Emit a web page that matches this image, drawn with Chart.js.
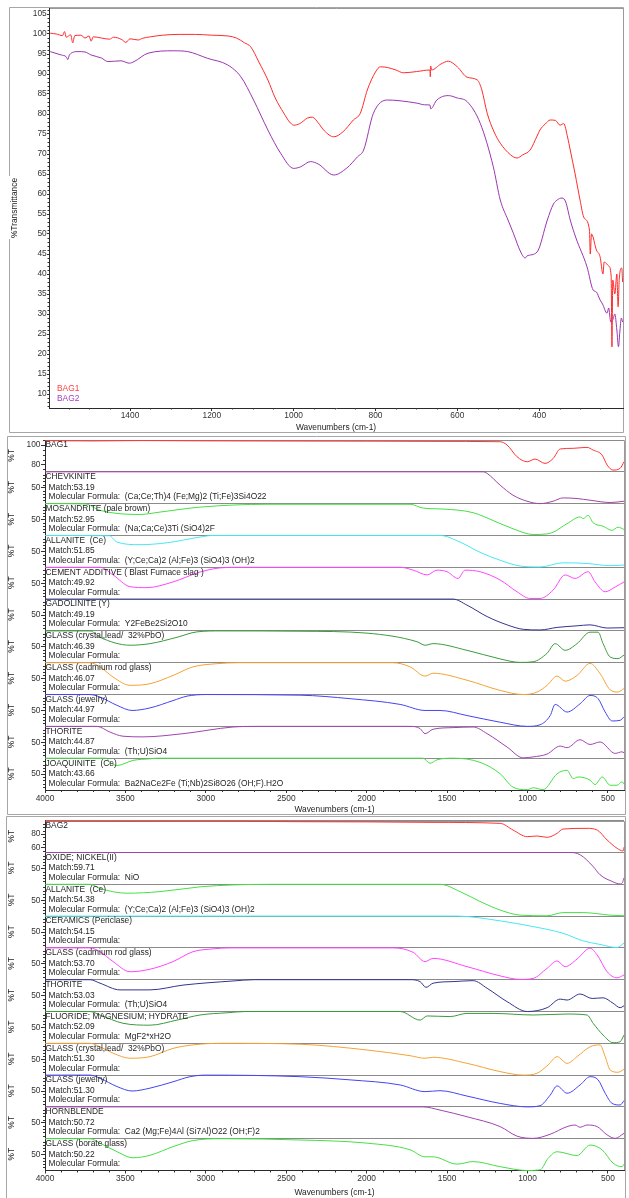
<!DOCTYPE html>
<html>
<head>
<meta charset="utf-8">
<script src="https://cdn.jsdelivr.net/npm/chart.js@4.4.1/dist/chart.umd.min.js"></script>
<style>
  html, body { margin: 0; padding: 0; background: #fff; }
  body { width: 629px; height: 1198px; position: relative; overflow: hidden; }
  canvas { position: absolute; left: 0; top: 0; }
</style>
</head>
<body>
<canvas id="spectraChart" width="629" height="1198"></canvas>
<canvas id="bag1Chart" width="629" height="1198"></canvas>
<canvas id="bag2Chart" width="629" height="1198"></canvas>
<script>
// ---------- top overlay: %T vs wavenumber ----------
const bag1Spectrum = [
  [1595, 100.2], [1580, 100.0], [1565, 99.6], [1560, 100.6], [1556, 99.2], [1545, 99.8], [1540, 97.8],
  [1535, 99.6], [1520, 99.7], [1510, 99.0], [1500, 99.5], [1495, 98.2], [1490, 99.3], [1470, 99.0],
  [1450, 98.7], [1440, 99.2], [1420, 98.6], [1410, 97.9], [1400, 98.8], [1380, 98.5], [1370, 98.9],
  [1350, 99.3], [1320, 99.7], [1280, 99.9], [1240, 99.9], [1200, 99.7], [1160, 99.5], [1140, 99.0],
  [1120, 97.8], [1105, 96.8], [1085, 93.0], [1063, 88.5], [1045, 84.0], [1024, 80.2], [1010, 78.0],
  [1000, 77.2], [985, 77.6], [966, 79.0], [954, 79.2], [940, 77.8], [925, 75.8], [902, 74.3],
  [880, 75.5], [854, 78.5], [837, 80.2], [820, 86.0], [800, 90.5], [788, 91.8], [770, 91.6],
  [750, 91.0], [732, 90.3], [700, 90.6], [667, 91.0], [666, 89.3], [665, 92.0], [663, 91.0],
  [640, 92.5], [622, 93.2], [600, 91.8], [576, 89.2], [551, 88.5], [540, 86.0], [527, 80.2],
  [510, 75.5], [495, 72.7], [470, 69.8], [454, 69.0], [440, 69.8], [422, 71.0], [405, 74.5],
  [398, 76.0], [385, 77.5], [373, 78.5], [360, 78.4], [349, 77.2], [340, 77.6], [330, 74.0],
  [324, 71.0], [312, 65.0], [300, 58.5], [290, 54.0], [277, 51.0], [275, 45.0], [272, 50.0],
  [260, 46.0], [251, 44.3], [244, 40.0], [241, 43.0], [230, 42.0], [224, 39.5], [222, 21.8],
  [220, 38.5], [215, 35.0], [210, 40.0], [207, 31.8], [204, 39.0], [198, 41.5], [196, 38.0]
]
const bag2Spectrum = [
  [1595, 95.6], [1568, 94.75], [1556, 94.3], [1552, 93.6], [1548, 94.8], [1527, 95.6], [1510, 95.5],
  [1495, 94.75], [1470, 94.0], [1454, 93.1], [1422, 93.3], [1402, 92.7], [1390, 93.1], [1356, 95.2],
  [1293, 95.8], [1259, 95.6], [1210, 93.9], [1161, 92.25], [1129, 89.3], [1098, 83.5], [1063, 76.0],
  [1032, 70.2], [1000, 66.4], [983, 66.8], [959, 68.1], [940, 67.5], [902, 64.75], [870, 66.5],
  [844, 69.3], [829, 71.0], [805, 80.2], [771, 83.5], [740, 83.3], [698, 82.7], [680, 82.3],
  [667, 82.25], [665, 81.3], [650, 83.5], [622, 84.6], [600, 84.0], [576, 83.1], [544, 77.7],
  [512, 66.8], [495, 58.5], [476, 53.5], [463, 50.2], [445, 45.5], [434, 44.0], [430, 44.5],
  [405, 45.5], [380, 53.5], [365, 57.5], [356, 58.5], [344, 59.0], [335, 58.0], [324, 53.5],
  [310, 49.0], [283, 41.8], [268, 36.0], [260, 35.5], [251, 33.5], [245, 32.5], [234, 30.2],
  [230, 31.5], [225, 28.0], [220, 28.5], [215, 30.0], [210, 26.0], [206, 21.8], [203, 25.2],
  [199, 29.0], [196, 28.0]
]
const topYTicks = [10, 15, 20, 25, 30, 35, 40, 45, 50, 55, 60, 65, 70, 75, 80, 85, 90, 95, 100, 105]
const topXTicks = [1400, 1200, 1000, 800, 600, 400]

// ---------- search results, shared x ticks ----------
const rowXTicks = [4000, 3500, 3000, 2500, 2000, 1500, 1000, 500]

// ---------- BAG1 search ----------
const bag1Row = [
  [4000, 104.5], [3700, 104.2], [3400, 104.6], [3000, 104.3], [2414, 104.1], [2000, 104.0], [1600, 103.8],
  [1170, 103.4], [1127, 100.0], [1065, 87.9], [1002, 82.7], [953, 85.5], [891, 81.0], [840, 86.2],
  [797, 95.9], [716, 96.6], [630, 97.6], [592, 94.8], [536, 89.6], [505, 79.3], [468, 74.1], [424, 75.9], [400, 82.7]
]
const chevkiniteRow = [
  [4000, 100], [1276, 100], [1251, 95], [1170, 58], [1090, 26.5], [1003, 7.6], [922, 0], [841, 7.6],
  [779, 18], [692, 16], [611, 10.7], [486, 3.5], [400, 7.6]
]
const mosandriteRow = [
  [4000, 100], [3750, 99], [3658, 79], [3409, 66], [3285, 73.5], [3036, 89], [2619, 98], [1730, 98],
  [1649, 86], [1525, 83], [1338, 71.6], [1214, 47], [1090, 21], [965, 3], [878, 5], [841, 10], [754, 37],
  [673, 58], [654, 53], [623, 63], [592, 40], [530, 29], [474, 16], [437, 26], [400, 19]
]
const allaniteRow = [
  [4000, 100], [3600, 99], [3552, 79], [3409, 71], [3241, 77], [3036, 95], [2955, 100], [1544, 100],
  [1419, 79], [1295, 47], [1170, 22], [1046, 4], [922, 1], [779, 14], [629, 12], [486, 5], [400, 7]
]
const cementRow = [
  [4000, 100], [3658, 100], [3577, 76], [3471, 39], [3366, 36], [3204, 54], [3036, 85], [2912, 98],
  [2800, 100], [1792, 100], [1711, 91], [1624, 76], [1562, 91], [1500, 86], [1432, 65], [1388, 91],
  [1295, 86], [1170, 60], [1065, 23], [985, 2], [922, 2], [841, 28], [766, 76], [704, 65], [623, 86],
  [580, 54], [517, 23], [455, 38], [400, 54]
]
const gadoliniteRow = [
  [4000, 100], [1463, 100], [1376, 81], [1251, 45], [1127, 19], [1027, 5], [922, 3], [816, 11],
  [692, 16], [611, 19], [505, 9], [400, 10]
]
const glassCrystalRow = [
  [4000, 100], [3720, 100], [3658, 80], [3471, 55], [3347, 60], [3179, 80], [3055, 97], [2900, 100],
  [2414, 99], [1998, 93], [1687, 66], [1637, 55], [1587, 60], [1376, 39], [1170, 12], [1046, 1],
  [965, 3], [878, 30], [828, 60], [766, 39], [692, 60], [611, 96], [561, 96], [530, 60], [486, 18],
  [437, 13], [400, 24]
]
const glassCadmiumRow = [
  [4000, 100], [3720, 100], [3658, 87], [3577, 55], [3471, 29], [3347, 34], [3204, 60], [3080, 87],
  [2930, 97], [2800, 100], [1836, 100], [1730, 87], [1637, 58], [1587, 67], [1376, 45], [1170, 13],
  [1027, 0], [940, 8], [878, 29], [816, 58], [766, 42], [692, 60], [611, 98], [549, 66], [486, 15],
  [437, 8], [400, 19]
]
const glassJewelryRow = [
  [4000, 100], [3720, 100], [3658, 92], [3552, 66], [3459, 50], [3347, 58], [3204, 81], [3117, 95],
  [3000, 100], [2414, 98], [2103, 87], [1792, 69], [1637, 50], [1544, 50], [1376, 34], [1170, 13],
  [1002, 0], [922, 5], [859, 34], [828, 69], [754, 45], [673, 71], [611, 97], [561, 87], [517, 45],
  [474, 17], [424, 19], [400, 30]
]
const thoriteRow = [
  [4000, 100], [3677, 100], [3596, 82], [3515, 69], [3391, 67], [3142, 77], [2831, 98], [2700, 100],
  [1730, 100], [1668, 93], [1637, 77], [1587, 91], [1463, 96], [1338, 98], [1251, 77], [1127, 35],
  [1027, 1], [965, 4], [878, 13], [797, 38], [754, 33], [673, 58], [611, 43], [549, 51], [455, 15],
  [412, 20], [400, 17]
]
const joaquiniteRow = [
  [4000, 100], [3620, 100], [3596, 87], [3552, 77], [3453, 93], [3347, 98], [3300, 100], [1649, 100],
  [1606, 84], [1562, 95], [1463, 100], [1295, 87], [1170, 51], [1090, 9], [1002, 1], [965, 7], [903, 1],
  [816, 51], [754, 62], [716, 36], [685, 41], [611, 31], [580, 17], [536, 41], [486, 15], [443, 15],
  [412, 26], [400, 18]
]
const bag1Rows = [bag1Row, chevkiniteRow, mosandriteRow, allaniteRow, cementRow, gadoliniteRow,
  glassCrystalRow, glassCadmiumRow, glassJewelryRow, thoriteRow, joaquiniteRow]
const bag1Names = ['BAG1', 'CHEVKINITE', 'MOSANDRITE (pale brown)', 'ALLANITE  (Ce)',
  'CEMENT ADDITIVE ( Blast Furnace slag )', 'GADOLINITE (Y)', 'GLASS (crystal,lead/  32%PbO)',
  'GLASS (cadmium rod glass)', 'GLASS (jewelry)', 'THORITE', 'JOAQUINITE  (Ce)']
const bag1Matches = ['', 'Match:53.19', 'Match:52.95', 'Match:51.85', 'Match:49.92', 'Match:49.19',
  'Match:46.39', 'Match:46.07', 'Match:44.97', 'Match:44.87', 'Match:43.66']
const bag1Formulas = ['', 'Molecular Formula:  (Ca;Ce;Th)4 (Fe;Mg)2 (Ti;Fe)3Si4O22',
  'Molecular Formula:  (Na;Ca;Ce)3Ti (SiO4)2F', 'Molecular Formula:  (Y;Ce;Ca)2 (Al;Fe)3 (SiO4)3 (OH)2',
  'Molecular Formula:', 'Molecular Formula:  Y2FeBe2Si2O10', 'Molecular Formula:', 'Molecular Formula:',
  'Molecular Formula:', 'Molecular Formula:  (Th;U)SiO4',
  'Molecular Formula:  Ba2NaCe2Fe (Ti;Nb)2Si8O26 (OH;F).H2O']
const bag1RowRange = [72.3, 105.2]
const bag1RowTicks = [100, 80]

// ---------- BAG2 search ----------
const bag2Row = [
  [4000, 99.5], [3500, 99.0], [3000, 99.3], [2414, 98.5], [2000, 98.2], [1600, 97.5], [1170, 96.0],
  [1090, 86.0], [1002, 76.0], [940, 77.0], [878, 75.0], [816, 81.0], [779, 87.5], [630, 88.5],
  [567, 86.0], [505, 71.0], [443, 58.5], [406, 54.5], [400, 60.0]
]
const oxideRow = [[4000, 100], [735, 100], [673, 93], [592, 56], [549, 30], [474, 9], [424, 1], [410, 5], [400, 20]]
const allanite2Row = [
  [4000, 100], [3720, 100], [3658, 87], [3490, 72], [3285, 77], [3036, 92], [2831, 98], [2600, 100],
  [1544, 100], [1419, 77], [1295, 46], [1170, 19], [1046, 3], [878, 1], [779, 11], [654, 11], [486, 3], [400, 1]
]
const ceramicsRow = [[4000, 100], [1438, 100], [1170, 85], [965, 67], [779, 46], [654, 22], [549, 11], [443, 1], [400, 15]]
const glassCadmium2Row = [
  [4000, 100], [3720, 100], [3658, 88], [3577, 57], [3471, 25], [3347, 33], [3204, 57], [3080, 88],
  [2955, 97], [2850, 100], [1836, 100], [1711, 86], [1637, 57], [1587, 67], [1376, 41], [1170, 12],
  [1046, 1], [965, 4], [878, 36], [816, 59], [766, 41], [692, 65], [611, 99], [567, 78], [505, 25],
  [443, 6], [400, 15]
]
const thorite2Row = [
  [4000, 100], [3720, 100], [3658, 89], [3534, 68], [3347, 68], [3142, 83], [2831, 96], [2700, 100],
  [1730, 100], [1668, 94], [1631, 76], [1587, 89], [1463, 94], [1338, 97], [1251, 73], [1127, 31],
  [1002, 0], [878, 12], [797, 39], [754, 36], [673, 55], [598, 41], [530, 43], [468, 26], [424, 12], [400, 18]
]
const fluorideRow = [
  [4000, 100], [3720, 100], [3658, 89], [3515, 63], [3347, 57], [3179, 73], [3036, 89], [2868, 96],
  [2750, 100], [1792, 100], [1668, 73], [1624, 86], [1481, 84], [1376, 94], [1214, 94], [965, 89],
  [754, 92], [630, 89], [592, 63], [530, 26], [468, 2], [424, 5], [400, 26]
]
const glassCrystal2Row = [
  [4000, 100], [3720, 100], [3658, 89], [3577, 69], [3471, 53], [3347, 58], [3204, 84], [3080, 95],
  [2900, 100], [2414, 97], [1998, 79], [1730, 61], [1637, 53], [1587, 56], [1376, 37], [1170, 11],
  [1027, 0], [940, 6], [872, 32], [816, 58], [754, 37], [692, 58], [611, 89], [549, 95], [517, 58],
  [486, 16], [437, 9], [400, 18]
]
const glassJewelry2Row = [
  [4000, 100], [3720, 100], [3658, 90], [3552, 64], [3459, 50], [3347, 59], [3204, 79], [3098, 95],
  [3000, 100], [2414, 95], [2103, 85], [1792, 69], [1637, 48], [1544, 51], [1376, 34], [1170, 11],
  [1002, 0], [922, 4], [859, 37], [816, 66], [754, 43], [673, 69], [611, 95], [561, 85], [517, 43],
  [474, 11], [424, 6], [400, 20]
]
const hornblendeRow = [
  [4000, 100], [1649, 100], [1544, 90], [1376, 69], [1170, 38], [1065, 8], [965, 1], [859, 14],
  [754, 38], [704, 43], [673, 36], [630, 43], [567, 38], [505, 12], [455, 1], [400, 17]
]
const glassBorateRow = [
  [4000, 100], [3720, 100], [3658, 86], [3552, 59], [3453, 40], [3347, 48], [3204, 75], [3080, 94],
  [2900, 100], [2414, 96], [1998, 86], [1730, 65], [1637, 43], [1587, 43], [1438, 20], [1338, 28],
  [1170, 12], [1002, 0], [922, 2], [872, 38], [816, 59], [692, 47], [611, 80], [536, 65], [468, 23],
  [412, 12], [400, 20]
]
const bag2Rows = [bag2Row, oxideRow, allanite2Row, ceramicsRow, glassCadmium2Row, thorite2Row,
  fluorideRow, glassCrystal2Row, glassJewelry2Row, hornblendeRow, glassBorateRow]
const bag2Names = ['BAG2', 'OXIDE; NICKEL(II)', 'ALLANITE  (Ce)', 'CERAMICS (Periclase)',
  'GLASS (cadmium rod glass)', 'THORITE', 'FLUORIDE; MAGNESIUM; HYDRATE', 'GLASS (crystal,lead/  32%PbO)',
  'GLASS (jewelry)', 'HORNBLENDE', 'GLASS (borate glass)']
const bag2Matches = ['', 'Match:59.71', 'Match:54.38', 'Match:54.15', 'Match:53.70', 'Match:53.03',
  'Match:52.09', 'Match:51.30', 'Match:51.30', 'Match:50.72', 'Match:50.22']
const bag2Formulas = ['', 'Molecular Formula:  NiO', 'Molecular Formula:  (Y;Ce;Ca)2 (Al;Fe)3 (SiO4)3 (OH)2',
  'Molecular Formula:', 'Molecular Formula:', 'Molecular Formula:  (Th;U)SiO4',
  'Molecular Formula:  MgF2*xH2O', 'Molecular Formula:', 'Molecular Formula:',
  'Molecular Formula:  Ca2 (Mg;Fe)4Al (Si7Al)O22 (OH;F)2', 'Molecular Formula:']
const bag2RowRange = [52.2, 100]
const bag2RowTicks = [80, 60]

// line colours per row
const bag1Colors = ['#ff3333', '#a044a8', '#44e044', '#44e8f4', '#ff44ff', '#33338f', '#3c9a3c',
  '#f5a236', '#4444f2', '#a044b0', '#44e044']
const bag2Colors = ['#ff3333', '#a044b0', '#44e044', '#44e8f4', '#ff44ff', '#33338f', '#3c9a3c',
  '#f5a236', '#4444f2', '#a044b0', '#44e044']

const fontFamily = "'Liberation Sans', Arial, sans-serif"
Chart.defaults.font.family = fontFamily
Chart.defaults.font.size = 8.4
Chart.defaults.color = '#2a2a2a'

const decorPlugin = {
  id: 'decor',
  beforeDraw(chart, args, opts) {
    if (!opts.box) return
    const { ctx, chartArea: a } = chart
    const b = opts.box
    ctx.save()
    ctx.strokeStyle = '#a6a6a6'
    ctx.lineWidth = 1
    ctx.beginPath()
    ctx.moveTo(b.left, b.top)
    ctx.lineTo(b.right, b.top)
    ctx.lineTo(b.right, b.bottom)
    ctx.lineTo(b.left, b.bottom)
    if (b.gap) {
      ctx.lineTo(b.left, b.gap[1])
      ctx.moveTo(b.left, b.gap[0])
    }
    ctx.lineTo(b.left, b.top)
    ctx.stroke()
    ctx.strokeStyle = '#9a9a9a'
    ctx.beginPath()
    ctx.moveTo(a.left, Math.round(a.top) + 0.5)
    ctx.lineTo(Math.round(a.right) + 0.5, Math.round(a.top) + 0.5)
    ctx.lineTo(Math.round(a.right) + 0.5, a.bottom)
    ctx.stroke()
    ctx.restore()
  },
  afterDraw(chart, args, opts) {
    const { ctx, chartArea: a, scales: { x, y } } = chart
    const len = opts.minorLen || 2
    ctx.save()
    ctx.strokeStyle = '#333'
    ctx.lineWidth = 1
    ctx.beginPath()
    ;(opts.minorX || []).forEach(v => {
      const px = Math.round(x.getPixelForValue(v)) + 0.5
      ctx.moveTo(px, a.bottom)
      ctx.lineTo(px, a.bottom + len)
    })
    ;(opts.minorY || []).forEach(v => {
      const py = Math.round(y.getPixelForValue(v)) + 0.5
      ctx.moveTo(a.left, py)
      ctx.lineTo(a.left - len, py)
    })
    ctx.stroke()
    ;(opts.labels || []).forEach(l => {
      ctx.fillStyle = l.color
      ctx.font = `8.4px ${fontFamily}`
      ctx.textBaseline = 'middle'
      ctx.fillText(l.text, l.x, l.y)
    })
    ctx.restore()
  }
}

const rowLabelsPlugin = {
  id: 'rowLabels',
  afterDatasetsDraw(chart, args, opts) {
    if (!opts.names) return
    const { ctx, chartArea: a, scales: { y } } = chart
    const n = opts.names.length
    ctx.save()
    ctx.fillStyle = '#1e1e1e'
    ctx.font = `8.4px ${fontFamily}`
    ctx.textBaseline = 'middle'
    opts.names.forEach((name, i) => {
      const top = y.getPixelForValue((n - i) * 100)
      ctx.textAlign = 'left'
      ctx.fillText(name, a.left + 0.5, top + 5)
      if (opts.matches[i]) ctx.fillText(opts.matches[i], a.left + 3.5, top + 15.6)
      if (opts.formulas[i]) ctx.fillText(opts.formulas[i], a.left + 3.5, top + 25)
      ctx.save()
      ctx.translate(12, top + 15.5)
      ctx.rotate(-Math.PI / 2)
      ctx.textAlign = 'center'
      ctx.fillText('%T', 0, 0)
      ctx.restore()
    })
    ctx.restore()
  }
}

Chart.register(decorPlugin, rowLabelsPlugin)

const toPoints = arr => arr.map(([w, t]) => ({ x: w, y: t }))
const plainNumber = v => String(v)

const topMinorX = []
for (let w = 250; w <= 1550; w += 50) if (w % 200 !== 0) topMinorX.push(w)
const topMinorY = []
for (let v = 7; v <= 106; v++) if (v % 5 !== 0) topMinorY.push(v)

new Chart(document.getElementById('spectraChart'), {
  type: 'line',
  data: {
    datasets: [
      { label: 'BAG1', data: toPoints(bag1Spectrum), borderColor: '#ff2b2b', borderWidth: 1, pointRadius: 0, cubicInterpolationMode: 'monotone' },
      { label: 'BAG2', data: toPoints(bag2Spectrum), borderColor: '#9a35b0', borderWidth: 1, pointRadius: 0, cubicInterpolationMode: 'monotone' }
    ]
  },
  options: {
    responsive: false,
    animation: false,
    devicePixelRatio: 1,
    events: [],
    layout: { padding: { left: 0, top: 8, right: 6, bottom: 764 } },
    plugins: {
      legend: { display: false },
      tooltip: { enabled: false },
      decor: {
        box: { left: 9.5, top: 7.5, right: 623.5, bottom: 432.5, gap: [176, 239] },
        minorX: topMinorX,
        minorY: topMinorY,
        minorLen: 1.5,
        labels: [
          { text: 'BAG1', color: '#ff4040', x: 57, y: 388.5 },
          { text: 'BAG2', color: '#a040c0', x: 57, y: 398.5 }
        ]
      }
    },
    scales: {
      x: {
        type: 'linear',
        reverse: true,
        min: 195,
        max: 1598,
        afterBuildTicks: s => { s.ticks = topXTicks.map(v => ({ value: v })) },
        afterFit: s => { s.height = 26 },
        grid: { drawOnChartArea: false, drawTicks: true, tickLength: 3, tickColor: '#333' },
        border: { color: '#2a2a2a', width: 1 },
        ticks: { autoSkip: false, maxRotation: 0, padding: 0, color: '#333', callback: plainNumber },
        title: { display: true, text: 'Wavenumbers (cm-1)', color: '#222', padding: { top: 0, bottom: 1.3 } }
      },
      y: {
        type: 'linear',
        min: 6.5,
        max: 106.5,
        afterBuildTicks: s => { s.ticks = topYTicks.map(v => ({ value: v })) },
        afterFit: s => { s.width = 49 },
        grid: { drawOnChartArea: false, drawTicks: true, tickLength: 2, tickColor: '#333' },
        border: { color: '#2a2a2a', width: 1 },
        ticks: { autoSkip: false, padding: 0.3, color: '#333', callback: plainNumber },
        title: { display: true, text: '%Transmittance', color: '#222', padding: { top: 10, bottom: 0 } }
      }
    }
  }
})

function buildRowsChart(canvasId, rows, colors, names, matches, formulas, sampleRange, sampleTicks, sampleMinor, padTop, padBottom, xHeight, titlePad, box) {
  const n = rows.length
  const toY = (i, v) => (n - 1 - i) * 100 + v
  const norm = t => (t - sampleRange[0]) / (sampleRange[1] - sampleRange[0]) * 100
  const datasets = rows.map((row, i) => ({
    data: row.map(([w, t]) => ({ x: w, y: toY(i, i === 0 ? norm(t) : t) })),
    borderColor: colors[i],
    borderWidth: 1,
    pointRadius: 0,
    cubicInterpolationMode: 'monotone',
    clip: 3
  }))

  const labels = new Map()
  const yTicks = []
  for (let k = 0; k <= n; k++) yTicks.push(k * 100)
  for (let i = 1; i < n; i++) { yTicks.push(toY(i, 50)); labels.set(toY(i, 50), '50') }
  sampleTicks.forEach(t => { const v = toY(0, norm(t)); yTicks.push(v); labels.set(v, String(t)) })
  yTicks.sort((a, b) => a - b)

  const minorY = []
  for (let i = 1; i < n; i++) for (let k = 10; k < 100; k += 10) if (k !== 50) minorY.push(toY(i, k))
  sampleMinor.forEach(t => minorY.push(toY(0, norm(t))))

  const minorX = []
  for (let w = 500; w < 4000; w += 100) if (w % 500 !== 0) minorX.push(w)

  return new Chart(document.getElementById(canvasId), {
    type: 'line',
    data: { datasets },
    options: {
      responsive: false,
      animation: false,
      devicePixelRatio: 1,
      events: [],
      layout: { padding: { left: 0, top: padTop, right: 5, bottom: padBottom } },
      plugins: {
        legend: { display: false },
        tooltip: { enabled: false },
        decor: { box, minorX, minorY, minorLen: 2 },
        rowLabels: { names, matches, formulas }
      },
      scales: {
        x: {
          type: 'linear',
          reverse: true,
          min: 400,
          max: 4000,
          afterBuildTicks: s => { s.ticks = rowXTicks.map(v => ({ value: v })) },
          afterFit: s => { s.height = xHeight },
          grid: { drawOnChartArea: false, drawTicks: true, tickLength: 3, tickColor: '#333' },
          border: { color: '#2a2a2a', width: 1 },
          ticks: { autoSkip: false, maxRotation: 0, padding: 0.5, color: '#333', callback: plainNumber },
          title: { display: true, text: 'Wavenumbers (cm-1)', color: '#222', padding: { top: 0, bottom: titlePad } }
        },
        y: {
          type: 'linear',
          min: 0,
          max: n * 100,
          afterBuildTicks: s => { s.ticks = yTicks.map(v => ({ value: v })) },
          afterFit: s => { s.width = 45 },
          grid: {
            drawOnChartArea: true,
            drawTicks: true,
            tickLength: 4,
            lineWidth: 1,
            color: c => (c.tick && c.tick.value % 100 === 0) ? '#8a8a8a' : 'rgba(0,0,0,0)',
            tickColor: c => (c.tick && c.tick.value % 100 === 0) ? 'rgba(0,0,0,0)' : '#333'
          },
          border: { color: '#2a2a2a', width: 1 },
          ticks: { autoSkip: false, padding: 0.5, color: '#333', callback: v => labels.get(v) || '' }
        }
      }
    }
  })
}

buildRowsChart('bag1Chart', bag1Rows, bag1Colors, bag1Names, bag1Matches, bag1Formulas,
  bag1RowRange, bag1RowTicks, [75, 85, 90, 95, 105], 440, 382, 26, 1, { left: 7.5, top: 436.5, right: 625.5, bottom: 814.5 })
buildRowsChart('bag2Chart', bag2Rows, bag2Colors, bag2Names, bag2Matches, bag2Formulas,
  bag2RowRange, bag2RowTicks, [55, 65, 70, 75, 85, 90, 95], 820.7, 0, 27.5, 0.3, { left: 6.5, top: 816.5, right: 625.5, bottom: 1200 })
</script>
</body>
</html>
